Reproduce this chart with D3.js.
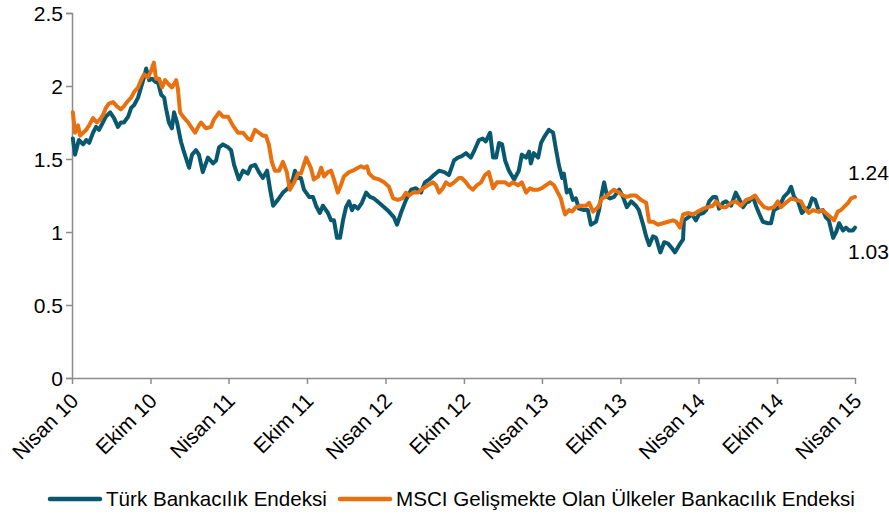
<!DOCTYPE html>
<html><head><meta charset="utf-8">
<script src="https://cdn.jsdelivr.net/npm/d3@7/dist/d3.min.js"></script>
<style>
html,body{margin:0;padding:0;background:#fff;}
svg{display:block;font-family:"Liberation Sans",Arial,sans-serif;}
</style></head>
<body>
<svg id="chart" width="889" height="515"></svg>
<script>
// ---- data (day offsets from 2010-04-01, values) ----
const startDate = "2010-04-01";
const endDate = "2015-04-01";
const turkDay = [2,7,16,26,33,40,49,56,63,72,79,89,98,107,114,121,131,138,145,154,161,168,173,180,187,194,201,208,215,219,226,233,238,245,254,261,273,280,289,296,305,317,329,336,343,352,364,371,378,389,399,410,417,427,436,445,455,462,469,480,492,504,515,520,527,534,541,553,562,569,578,585,597,604,611,618,625,632,639,646,653,658,667,676,686,695,704,716,728,739,751,758,767,779,791,802,814,823,833,844,856,868,879,891,900,909,919,930,937,949,958,965,975,982,989,996,1003,1010,1019,1031,1042,1049,1059,1066,1070,1077,1087,1094,1101,1112,1122,1129,1136,1143,1147,1154,1161,1168,1175,1182,1194,1203,1210,1222,1229,1236,1241,1248,1255,1264,1276,1285,1294,1304,1315,1322,1332,1339,1346,1355,1362,1372,1381,1390,1399,1406,1416,1425,1427,1437,1446,1455,1462,1472,1479,1486,1495,1502,1509,1518,1525,1537,1548,1555,1565,1572,1579,1588,1595,1602,1611,1623,1630,1637,1649,1660,1670,1677,1684,1693,1702,1709,1719,1726,1733,1742,1751,1758,1765,1775,1782,1789,1798,1805,1812,1821,1826];
const turkValue = [1.64,1.53,1.63,1.60,1.63,1.61,1.68,1.72,1.70,1.75,1.79,1.82,1.78,1.72,1.75,1.75,1.79,1.85,1.87,1.92,1.99,2.06,2.12,2.04,2.05,2.03,2.02,1.94,1.92,1.85,1.75,1.71,1.82,1.75,1.62,1.55,1.44,1.53,1.56,1.53,1.41,1.51,1.47,1.49,1.58,1.60,1.58,1.56,1.46,1.36,1.42,1.40,1.45,1.46,1.41,1.37,1.42,1.29,1.18,1.22,1.27,1.30,1.36,1.42,1.37,1.37,1.29,1.24,1.24,1.18,1.13,1.18,1.13,1.08,1.08,0.96,0.96,1.08,1.17,1.21,1.15,1.18,1.16,1.20,1.27,1.24,1.23,1.20,1.17,1.14,1.10,1.05,1.13,1.22,1.29,1.30,1.27,1.34,1.36,1.39,1.42,1.41,1.39,1.49,1.51,1.52,1.54,1.51,1.55,1.63,1.64,1.62,1.68,1.51,1.51,1.61,1.60,1.49,1.42,1.36,1.42,1.53,1.51,1.55,1.47,1.54,1.51,1.61,1.65,1.70,1.68,1.56,1.45,1.37,1.40,1.27,1.29,1.22,1.23,1.16,1.15,1.15,1.05,1.07,1.15,1.27,1.34,1.24,1.23,1.24,1.29,1.24,1.17,1.21,1.18,1.15,1.05,0.97,0.91,0.97,0.96,0.86,0.93,0.92,0.89,0.86,0.91,0.95,1.08,1.10,1.12,1.08,1.12,1.13,1.15,1.21,1.24,1.24,1.16,1.20,1.21,1.18,1.27,1.23,1.17,1.20,1.21,1.24,1.18,1.13,1.07,1.06,1.06,1.15,1.17,1.24,1.27,1.31,1.24,1.21,1.13,1.15,1.17,1.23,1.22,1.14,1.15,1.10,1.08,0.96,1.00,1.06,1.01,1.03,1.01,1.01,1.03];
const msciDay = [2,7,14,19,26,33,40,49,58,65,72,79,86,96,105,114,121,128,138,145,154,161,168,177,184,191,196,203,210,217,226,233,243,247,252,259,271,280,287,296,301,312,324,331,343,352,364,375,387,399,410,417,427,436,445,452,459,466,473,483,492,501,508,518,527,534,546,557,564,574,581,588,597,604,611,620,627,634,646,655,667,674,681,688,693,704,716,728,739,749,760,770,779,786,795,807,819,830,842,849,856,865,872,881,891,902,909,919,926,935,944,954,963,972,982,991,1000,1010,1019,1028,1040,1049,1059,1068,1075,1087,1096,1105,1115,1124,1133,1140,1145,1150,1159,1166,1175,1187,1199,1206,1215,1227,1236,1245,1255,1264,1276,1285,1294,1304,1315,1327,1339,1346,1355,1367,1378,1390,1402,1409,1418,1425,1437,1448,1460,1472,1483,1495,1502,1514,1525,1537,1548,1560,1572,1583,1593,1602,1614,1625,1637,1646,1653,1665,1677,1688,1700,1709,1719,1728,1740,1749,1758,1770,1777,1786,1793,1800,1810,1817,1826];
const msciValue = [1.82,1.68,1.73,1.66,1.68,1.70,1.73,1.78,1.75,1.77,1.80,1.85,1.88,1.89,1.86,1.84,1.86,1.89,1.92,1.96,1.99,2.04,2.08,2.06,2.10,2.16,2.05,2.05,1.99,2.04,2.01,1.99,2.04,1.98,1.82,1.79,1.75,1.71,1.68,1.73,1.75,1.71,1.72,1.77,1.82,1.79,1.79,1.73,1.68,1.68,1.64,1.63,1.70,1.68,1.66,1.66,1.60,1.48,1.42,1.42,1.48,1.41,1.29,1.34,1.40,1.40,1.51,1.44,1.36,1.38,1.44,1.38,1.41,1.42,1.36,1.27,1.32,1.38,1.41,1.42,1.44,1.45,1.44,1.45,1.40,1.37,1.36,1.34,1.31,1.23,1.22,1.23,1.27,1.25,1.27,1.27,1.30,1.32,1.34,1.32,1.27,1.30,1.34,1.32,1.34,1.37,1.37,1.34,1.31,1.29,1.32,1.34,1.39,1.41,1.30,1.34,1.34,1.34,1.32,1.34,1.32,1.34,1.27,1.30,1.29,1.29,1.30,1.32,1.34,1.32,1.27,1.23,1.17,1.12,1.15,1.14,1.17,1.18,1.18,1.20,1.14,1.17,1.23,1.24,1.27,1.29,1.27,1.25,1.24,1.25,1.25,1.22,1.20,1.07,1.07,1.05,1.06,1.07,1.08,1.07,1.03,1.12,1.13,1.12,1.14,1.16,1.17,1.18,1.21,1.17,1.17,1.20,1.21,1.18,1.22,1.23,1.25,1.21,1.17,1.16,1.17,1.21,1.17,1.20,1.23,1.22,1.21,1.16,1.13,1.15,1.14,1.15,1.13,1.10,1.08,1.14,1.15,1.17,1.20,1.23,1.24];
const yTicks = [0, 0.5, 1, 1.5, 2, 2.5];
const xTickDates = ["2010-04-01","2010-10-01","2011-04-01","2011-10-01","2012-04-01","2012-10-01","2013-04-01","2013-10-01","2014-04-01","2014-10-01","2015-04-01"];
const xTickLabels = ["Nisan 10","Ekim 10","Nisan 11","Ekim 11","Nisan 12","Ekim 12","Nisan 13","Ekim 13","Nisan 14","Ekim 14","Nisan 15"];
const seriesNames = ["Türk Bankacılık Endeksi","MSCI Gelişmekte Olan Ülkeler Bankacılık Endeksi"];
const seriesColors = ["#08596f","#e8700f"];
const endLabels = ["1.03","1.24"];

// ---- chart ----
const parse = d3.timeParse("%Y-%m-%d");
const t0 = parse(startDate), t1 = parse(endDate);
const svg = d3.select("#chart");
const mLeft = 72, mRight = 855, mTop = 13, mBottom = 378;
const x = d3.scaleTime().domain([t0, t1]).range([mLeft, mRight]);
const y = d3.scaleLinear().domain([0, 2.5]).range([mBottom, mTop]);
const axisColor = "#8c8c8c";
const fs = 21;
const ff = '"Liberation Sans",Arial,sans-serif';

// y axis
const yAxis = svg.append("g").attr("transform", `translate(${mLeft},0)`)
  .call(d3.axisLeft(y).tickValues(yTicks).tickSize(6).tickPadding(3).tickFormat(d => String(d)));
yAxis.select(".domain").attr("stroke", axisColor).attr("stroke-width", 1.5);
yAxis.selectAll(".tick line").attr("stroke", axisColor).attr("stroke-width", 1.5);
yAxis.selectAll(".tick text").attr("font-size", fs).attr("fill", "#000")
  .attr("font-family", ff).attr("dy", "0.36em");

// x axis
const xTicksParsed = xTickDates.map(parse);
const xAxis = svg.append("g").attr("transform", `translate(0,${mBottom})`)
  .call(d3.axisBottom(x).tickValues(xTicksParsed).tickSize(6).tickSizeOuter(0)
    .tickFormat((d, i) => xTickLabels[i]));
xAxis.select(".domain").attr("stroke", axisColor).attr("stroke-width", 1.5);
xAxis.selectAll(".tick line").attr("stroke", axisColor).attr("stroke-width", 1.5);
xAxis.selectAll(".tick text").attr("font-size", fs).attr("fill", "#000")
  .attr("font-family", ff)
  .attr("text-anchor", "end")
  .attr("transform", "translate(2,19) rotate(-45)")
  .attr("dy", "0.35em").attr("y", 0);

// lines
const series = [
  {days: turkDay, values: turkValue},
  {days: msciDay, values: msciValue}
];
const line = d3.line().x(d => x(d[0])).y(d => y(d[1])).curve(d3.curveLinear);
series.forEach((s, i) => {
  const pts = s.days.map((dd, k) => [d3.timeDay.offset(t0, dd), s.values[k]]);
  s.pts = pts;
  svg.append("path").datum(pts)
    .attr("fill", "none").attr("stroke", seriesColors[i])
    .attr("stroke-width", 4).attr("stroke-linejoin", "round").attr("stroke-linecap", "round")
    .attr("d", line);
});

// end labels
series.forEach((s, i) => {
  const last = s.pts[s.pts.length - 1];
  svg.append("text").attr("x", x(last[0]) - 7)
    .attr("y", y(last[1]) + (i === 0 ? 31 : -17))
    .attr("font-size", fs).attr("font-family", ff).attr("fill", "#000").text(endLabels[i]);
});

// legend
const legend = svg.append("g").attr("transform", "translate(0,499)");
const legX = [50, 340];
seriesNames.forEach((n, i) => {
  legend.append("line").attr("x1", legX[i]).attr("x2", legX[i] + 50).attr("y1", 0).attr("y2", 0)
    .attr("stroke", seriesColors[i]).attr("stroke-width", 4.5).attr("stroke-linecap", "round");
  legend.append("text").attr("x", legX[i] + 56).attr("y", 7).attr("font-size", 20.6)
    .attr("font-family", ff).attr("fill", "#000").text(n);
});
</script>
</body></html>
